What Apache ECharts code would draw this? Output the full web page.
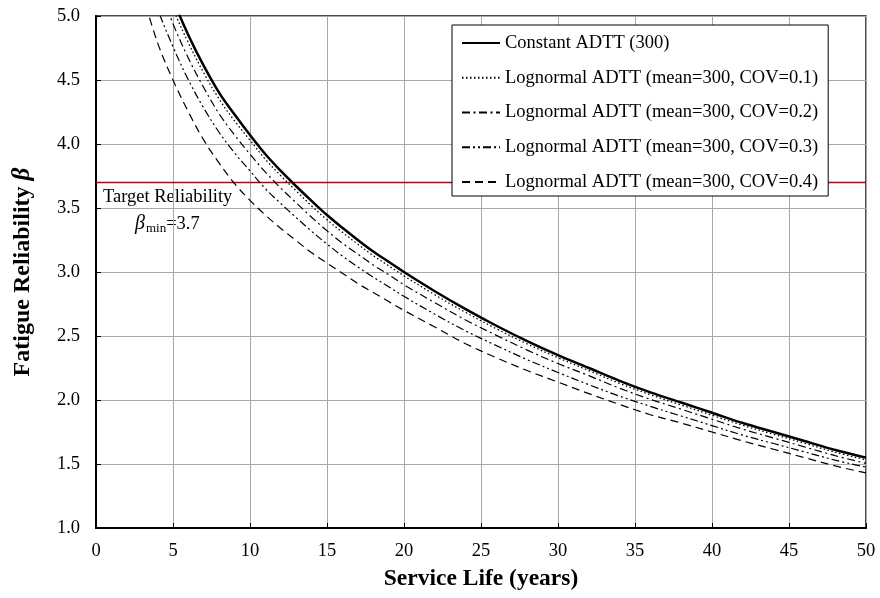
<!DOCTYPE html>
<html>
<head>
<meta charset="utf-8">
<script src="https://cdn.jsdelivr.net/npm/echarts@6/dist/echarts.min.js"></script>
<style>
  html, body { margin: 0; padding: 0; background: #fff; }
  #chart { width: 880px; height: 598px; }
</style>
</head>
<body>
<div id="chart"></div>
<script>
// Service life in years (shared x values for every curve)
const years = [3, 4, 5, 6, 7, 8, 9, 10, 11, 12, 13, 14, 15, 16, 17, 18, 19, 20,
  22, 24, 26, 28, 30, 32, 34, 36, 38, 40, 42, 44, 46, 48, 50];

// Fatigue reliability index for each traffic model
const betaConstant = [5.93, 5.48, 5.13, 4.85, 4.61, 4.40, 4.23, 4.07, 3.92, 3.79, 3.67, 3.555, 3.445, 3.345, 3.25, 3.16, 3.08, 3.00,
  2.85, 2.71, 2.58, 2.46, 2.35, 2.25, 2.15, 2.06, 1.98, 1.90, 1.82, 1.75, 1.68, 1.61, 1.55];
const betaCov01 = [5.84, 5.40, 5.06, 4.79, 4.555, 4.35, 4.18, 4.03, 3.88, 3.752, 3.633, 3.516, 3.408, 3.31, 3.217, 3.128, 3.049, 2.97,
  2.822, 2.684, 2.556, 2.438, 2.33, 2.23, 2.13, 2.041, 1.961, 1.881, 1.802, 1.732, 1.662, 1.592, 1.532];
const betaCov02 = [5.70, 5.27, 4.94, 4.67, 4.44, 4.235, 4.07, 3.92, 3.78, 3.655, 3.54, 3.428, 3.322, 3.225, 3.14, 3.055, 2.98, 2.90,
  2.76, 2.625, 2.505, 2.39, 2.285, 2.19, 2.092, 2.005, 1.928, 1.85, 1.772, 1.703, 1.634, 1.565, 1.505];
const betaCov03 = [5.48, 5.06, 4.76, 4.50, 4.28, 4.09, 3.93, 3.79, 3.65, 3.535, 3.425, 3.318, 3.218, 3.125, 3.04, 2.96, 2.885, 2.81,
  2.67, 2.54, 2.425, 2.315, 2.215, 2.12, 2.03, 1.95, 1.875, 1.80, 1.725, 1.66, 1.595, 1.53, 1.475];
const betaCov04 = [5.18, 4.79, 4.50, 4.25, 4.03, 3.85, 3.69, 3.56, 3.445, 3.34, 3.245, 3.15, 3.07, 2.99, 2.91, 2.84, 2.77, 2.70,
  2.57, 2.44, 2.33, 2.23, 2.14, 2.05, 1.965, 1.885, 1.82, 1.75, 1.68, 1.615, 1.55, 1.485, 1.43];

// Target reliability level
const betaMin = 3.7;

// Axis ranges and tick steps
const xTicks = { min: 0, max: 50, step: 5 };
const yTicks = { min: 1.0, max: 5.0, step: 0.5 };

const seriesNames = [
  'Constant ADTT (300)',
  'Lognormal ADTT (mean=300, COV=0.1)',
  'Lognormal ADTT (mean=300, COV=0.2)',
  'Lognormal ADTT (mean=300, COV=0.3)',
  'Lognormal ADTT (mean=300, COV=0.4)'
];
const seriesValues = [betaConstant, betaCov01, betaCov02, betaCov03, betaCov04];
const seriesStrokes = [
  { width: 2.5, type: 'solid' },
  { width: 1.3, type: [1.5, 2.5] },
  { width: 1.2, type: [8, 3.5, 2, 3.5] },
  { width: 1.2, type: [8, 3, 2, 3, 2, 3] },
  { width: 1.2, type: [8, 5] }
];

const SERIF = "'Liberation Serif', 'Times New Roman', serif";

const pairs = (vals) => years.map((t, i) => [t, vals[i]]);

const curveSeries = seriesNames.map((name, k) => ({
  name: name,
  type: 'line',
  data: pairs(seriesValues[k]),
  symbol: 'none',
  smooth: 0.35,
  clip: true,
  silent: true,
  animation: false,
  lineStyle: { color: '#000', width: seriesStrokes[k].width, type: seriesStrokes[k].type },
  itemStyle: { color: '#000' },
  z: 3
}));

const targetSeries = {
  name: 'target',
  type: 'line',
  data: [[xTicks.min, betaMin], [xTicks.max, betaMin]],
  symbol: 'none',
  silent: true,
  animation: false,
  lineStyle: { color: '#c00000', width: 1.5 },
  z: 2
};

const chart = echarts.init(document.getElementById('chart'), null, { renderer: 'canvas' });

chart.setOption({
  backgroundColor: '#fff',
  animation: false,
  grid: {
    left: 96, right: 14, top: 16, bottom: 70,
    show: true, borderColor: '#111', borderWidth: 1.5, backgroundColor: 'transparent'
  },
  xAxis: {
    type: 'value',
    min: xTicks.min, max: xTicks.max, interval: xTicks.step,
    name: 'Service Life (years)',
    nameLocation: 'middle',
    nameGap: 39,
    nameTextStyle: { fontFamily: SERIF, fontWeight: 'bold', fontSize: 23.5, color: '#000' },
    axisLine: { show: true, lineStyle: { color: '#000', width: 2 } },
    axisTick: { show: true, inside: true, length: 5, lineStyle: { color: '#000', width: 1 } },
    axisLabel: { fontFamily: SERIF, fontSize: 18.5, color: '#000', margin: 14 },
    splitLine: { show: true, lineStyle: { color: '#a8a8a8', width: 1 } }
  },
  yAxis: {
    type: 'value',
    min: yTicks.min, max: yTicks.max, interval: yTicks.step,
    name: '{a|Fatigue Reliability }{b|β}',
    nameLocation: 'middle',
    nameGap: 61,
    nameTextStyle: {
      fontFamily: SERIF, fontWeight: 'bold', fontSize: 24, color: '#000',
      rich: {
        a: { fontFamily: SERIF, fontWeight: 'bold', fontSize: 24, color: '#000' },
        b: { fontFamily: SERIF, fontWeight: 'bold', fontStyle: 'italic', fontSize: 25, color: '#000' }
      }
    },
    axisLine: { show: true, lineStyle: { color: '#000', width: 2 } },
    axisTick: { show: true, inside: true, length: 5, lineStyle: { color: '#000', width: 1 } },
    axisLabel: {
      fontFamily: SERIF, fontSize: 18.5, color: '#000', margin: 16,
      formatter: (v) => v.toFixed(1)
    },
    splitLine: { show: true, lineStyle: { color: '#a8a8a8', width: 1 } }
  },
  legend: {
    data: seriesNames,
    orient: 'vertical',
    left: 452,
    top: 25,
    padding: [8, 10, 4, 9],
    itemWidth: 38,
    itemHeight: 20,
    itemGap: 14.75,
    backgroundColor: '#fff',
    borderColor: '#000',
    borderWidth: 1,
    borderRadius: 0,
    selectedMode: false,
    // only the stroke sample is shown, no marker
    itemStyle: { color: 'rgba(0,0,0,0)', borderColor: 'rgba(0,0,0,0)', borderWidth: 0, opacity: 0 },
    textStyle: { fontFamily: SERIF, fontSize: 18.5, color: '#000', lineHeight: 20 }
  },
  graphic: [
    {
      type: 'text',
      left: 103,
      top: 188,
      silent: true,
      style: { text: 'Target Reliability', fill: '#000', font: '18.5px ' + SERIF }
    },
    {
      type: 'text',
      left: 135,
      top: 214,
      silent: true,
      style: {
        text: '{b|β}{s|min}{n|=3.7}',
        fill: '#000',
        rich: {
          b: { fontFamily: SERIF, fontStyle: 'italic', fontSize: 20, fill: '#000' },
          s: { fontFamily: SERIF, fontSize: 13, fill: '#000', padding: [9, 0, 0, 1] },
          n: { fontFamily: SERIF, fontSize: 18.5, fill: '#000' }
        }
      }
    }
  ],
  series: [targetSeries].concat(curveSeries)
});
</script>
</body>
</html>
